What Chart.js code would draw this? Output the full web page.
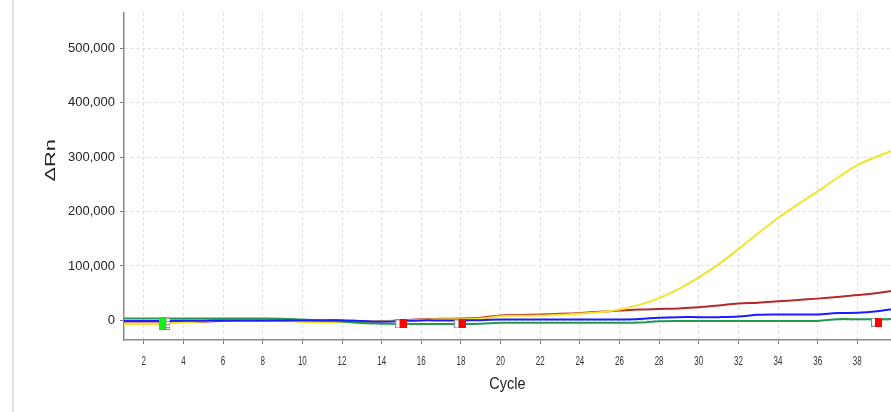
<!DOCTYPE html>
<html>
<head>
<meta charset="utf-8">
<script src="https://cdn.jsdelivr.net/npm/chart.js@4/dist/chart.umd.min.js"></script>
<style>
  html, body { margin: 0; padding: 0; background: #fff; }
  #wrap { position: relative; width: 891px; height: 412px; overflow: hidden; }
  #edge { position: absolute; left: 12px; top: 0; width: 2px; height: 412px; background: #e3e3e3; }
  canvas { position: absolute; left: 0; top: 0; }
</style>
</head>
<body>
<div id="wrap">
  <div id="edge"></div>
  <canvas id="amp" width="891" height="412"></canvas>
</div>
<script>
// Amplification plot: delta Rn per cycle for four wells
const cycles = Array.from({ length: 40 }, (_, i) => i + 1);

const yellowRn = [-6500, -6500, -6000, -4000, -1500, 1000, 1000, 1000, 0, -3000,
  -3800, -3800, -2500, -1000, 0, 1000, 2000, 2000, 3500, 7500,
  8500, 9000, 10500, 12500, 15000, 20000, 28500, 41000, 58000, 79000,
  103000, 131000, 160000, 188000, 213000, 237000, 262000, 285000, 301000, 315000];

const redRn = [-2000, -2000, -2000, -3000, -2500, -500, 0, 0, 0, 0,
  0, 0, -1500, -2000, 0, 2000, 3000, 3500, 5000, 9000,
  10000, 11000, 12000, 13500, 16000, 18000, 20000, 21000, 22000, 24000,
  27500, 31000, 32500, 35000, 37500, 40000, 43000, 46500, 50500, 55500];

const blueRn = [-900, -900, -900, -800, -500, 0, 0, 0, 0, 0,
  0, 0, -1000, -2000, -1000, 0, 0, 0, 500, 1500,
  1500, 1500, 1500, 1500, 1500, 1500, 2500, 5000, 6000, 6000,
  6000, 7000, 10500, 11000, 11000, 11000, 13500, 14000, 17000, 22000];

const greenRn = [3400, 3400, 3400, 3400, 3400, 3400, 3400, 3400, 3000, 1500,
  0, -2000, -5000, -6000, -6500, -6500, -6500, -6500, -6000, -4500,
  -4500, -4500, -4500, -4500, -4500, -4500, -4000, -1500, -1000, -1000,
  -1000, -1000, -1000, -1000, -1000, -1000, 2200, 2200, 2200, 2500];

// Baseline start / end handles
const baseStartCycles = [3.22, 14.81, 17.78, 38.82];
const baseStartRn = [-6400, -6400, -6400, -3300];
const baseEndCycles = [2.93, 15.11, 18.09, 39.08];
const baseEndRn = [-6400, -6400, -6400, -3300];
const baseEndColors = ['#10f010', '#ff0000', '#ff0000', '#ff0000'];

const yTicks = [0, 100000, 200000, 300000, 400000, 500000];
const xTicks = [2, 4, 6, 8, 10, 12, 14, 16, 18, 20, 22, 24, 26, 28, 30, 32, 34, 36, 38];

function handleImage(w, h, fill, stroke, stripes) {
  const c = document.createElement('canvas');
  c.width = w; c.height = h;
  const g = c.getContext('2d');
  if (fill) { g.fillStyle = fill; g.fillRect(0, 0, w, h); }
  if (stroke) {
    g.fillStyle = '#fff'; g.fillRect(0, 0, w, h);
    g.strokeStyle = stroke; g.lineWidth = 1;
    g.strokeRect(0.5, 0.5, w - 1, h - 1);
    if (stripes) {
      for (let y = 3; y < h - 2; y += 3) {
        g.beginPath(); g.moveTo(1, y + 0.5); g.lineTo(w - 1, y + 0.5); g.stroke();
      }
    }
  }
  return c;
}

const startImgs = baseStartCycles.map((_, i) => handleImage(5, i === 0 ? 12 : 9, null, '#8c8c8c', i === 0));
const endImgs = baseEndColors.map((col, i) => handleImage(7, i === 0 ? 13 : 9, col, null, false));

const series = (vals) => cycles.map((c, i) => ({ x: c, y: vals[i] }));
const pairs = (xs, ys) => xs.map((x, i) => ({ x, y: ys[i] }));

const lineDs = (label, vals, color, order) => ({
  label, data: series(vals), borderColor: color, borderWidth: 2,
  pointRadius: 0, tension: 0.35, fill: false, order
});

const sans = "'Liberation Sans', Arial, sans-serif";

// Axis text in this plot is drawn taller than it is wide; stretch it
// vertically around its own baseline row so positions stay on the scale.
function stretchAround(ctx, cy, sy, ty) {
  ctx.translate(0, ty);
  ctx.scale(1, sy);
  ctx.translate(0, -cy);
}

const tallText = {
  id: 'tallText',
  beforeDraw(chart) {
    const { x: xs, y: ys } = chart.scales;
    const H = Chart.helpers;
    if (!xs._tall) {
      xs._tall = true;
      const labels = xs.drawLabels.bind(xs);
      xs.drawLabels = function (area) {
        const items = this.getLabelItems(area);
        const cy = items.length ? items[0].options.translation[1] : 0;
        this.ctx.save();
        stretchAround(this.ctx, cy, 1.7, cy);
        labels(area);
        this.ctx.restore();
      };
      const title = xs.drawTitle.bind(xs);
      xs.drawTitle = function () {
        const f = H.toFont(this.options.title.font);
        const p = H.toPadding(this.options.title.padding);
        const cy = this.bottom - p.bottom - f.lineHeight / 2;
        this.ctx.save();
        stretchAround(this.ctx, cy, 1.15, cy);
        title();
        this.ctx.restore();
      };
    }
    if (!ys._tall) {
      ys._tall = true;
      const title = ys.drawTitle.bind(ys);
      ys.drawTitle = function () {
        const cy = (this.top + this.bottom) / 2;
        this.ctx.save();
        stretchAround(this.ctx, cy, 1.45, cy - 16);
        title();
        this.ctx.restore();
      };
    }
  }
};

new Chart(document.getElementById('amp'), {
  type: 'line',
  data: {
    datasets: [
      { type: 'scatter', label: 'end', data: pairs(baseEndCycles, baseEndRn), pointStyle: endImgs, pointRadius: 5, showLine: false, order: 0 },
      { type: 'scatter', label: 'start', data: pairs(baseStartCycles, baseStartRn), pointStyle: startImgs, pointRadius: 5, showLine: false, order: 1 },
      lineDs('Blue', blueRn, '#1c1cff', 2),
      lineDs('Green', greenRn, '#23994c', 3),
      lineDs('Yellow', yellowRn, '#f0e42c', 4),
      lineDs('Red', redRn, '#b42a2a', 5)
    ]
  },
  options: {
    responsive: false,
    animation: false,
    layout: { autoPadding: false, padding: { top: 9, right: 0, bottom: 0, left: 0 } },
    plugins: { legend: { display: false }, tooltip: { enabled: false } },
    scales: {
      x: {
        type: 'linear', min: 1, max: 39.7,
        afterBuildTicks: s => { s.ticks = xTicks.map(v => ({ value: v })); },
        afterFit: s => { s.height = 72; s.paddingLeft = 0; s.paddingRight = 0; },
        ticks: { color: '#333', padding: 9, maxRotation: 0, autoSkip: false,
                 font: { family: sans, size: 8 } },
        grid: { color: '#dcdcdc', tickColor: '#777', tickLength: 4, lineWidth: 1 },
        border: { display: true, color: '#8a8a8a', width: 1.5, dash: [3, 3] },
        title: { display: true, text: 'Cycle', color: '#222',
                 font: { family: sans, size: 14.5 }, padding: { top: 0, bottom: 18.5 } }
      },
      y: {
        type: 'linear', min: -36000, max: 565000,
        afterBuildTicks: s => { s.ticks = yTicks.map(v => ({ value: v })); },
        afterFit: s => { s.width = 124; },
        ticks: { color: '#222', padding: 5,
                 font: { family: sans, size: 13 },
                 callback: v => v.toLocaleString('en-US') },
        grid: { color: '#dcdcdc', tickColor: '#777', tickLength: 4, lineWidth: 1 },
        border: { display: true, color: '#8a8a8a', width: 1.5, dash: [3, 3] },
        title: { display: true, text: 'ΔRn', color: '#222',
                 font: { family: sans, size: 15 }, padding: { top: 42, bottom: 0 } }
      }
    }
  },
  plugins: [tallText]
});
</script>
</body>
</html>
